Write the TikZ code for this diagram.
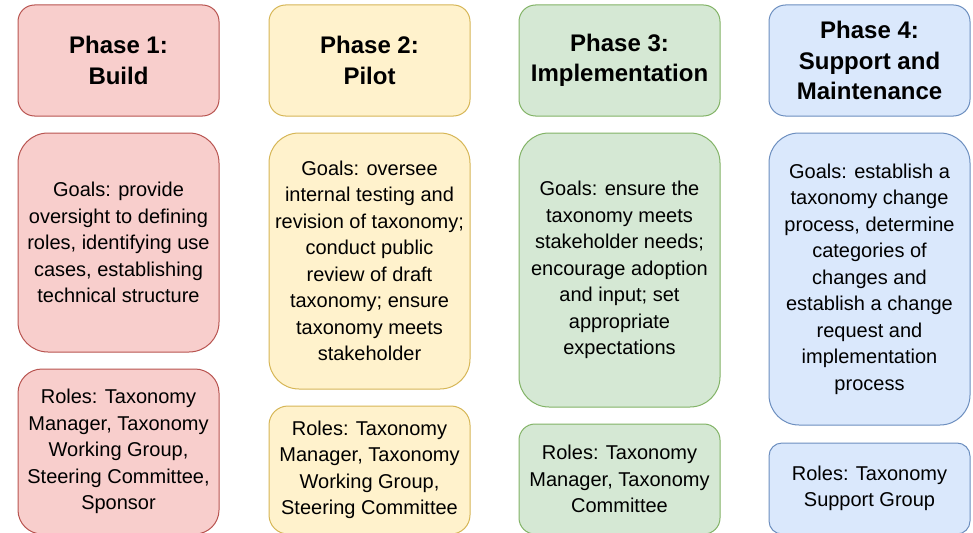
\documentclass[tikz,border=0pt]{standalone}
\usepackage{fontspec}
\setmainfont{Liberation Sans}
\definecolor{redfill}{HTML}{F8CECC}\definecolor{redline}{HTML}{B85450}
\definecolor{yelfill}{HTML}{FFF2CC}\definecolor{yelline}{HTML}{D6B656}
\definecolor{grnfill}{HTML}{D5E8D4}\definecolor{grnline}{HTML}{82B366}
\definecolor{blufill}{HTML}{DAE8FC}\definecolor{bluline}{HTML}{6C8EBF}
\tikzset{
  box/.style={rectangle, draw, line width=1pt, minimum width=201pt, inner sep=0pt, align=center,
    font=\fontsize{20}{26.5}\selectfont},
  titlebox/.style={box, minimum height=111pt, rounded corners=16.5pt,
    font=\fontsize{24}{30.5}\selectfont\bfseries},
  c1/.style={fill=redfill, draw=redline},
  c2/.style={fill=yelfill, draw=yelline},
  c3/.style={fill=grnfill, draw=grnline},
  c4/.style={fill=blufill, draw=bluline},
}
\begin{document}
\begin{tikzpicture}[x=1pt,y=-1pt]
\useasboundingbox (0,0) rectangle (973,532);
\begin{scope}
\clip (0,0) rectangle (973,532);
% Phase boxes
\node[titlebox,c1] (p1) at (118.5,60.5) {Phase 1:\\Build};
\node[titlebox,c2] (p2) at (369.5,60.5) {Phase 2:\\Pilot};
\node[titlebox,c3] (p3) at (619.5,60.5) {Phase 3:\\Implementation};
\node[titlebox,c4] (p4) at (869.5,60.5) {Phase 4:\\Support and\\Maintenance};
% Goals
\node[box,c1,minimum height=219pt,rounded corners=30pt] (g1) at (118.5,242.5)
  {Goals: provide\\oversight to defining\\roles, identifying use\\cases, establishing\\technical structure};
\node[box,c2,minimum height=256pt,rounded corners=30pt] (g2) at (369.5,261)
  {Goals: oversee\\internal testing and\\revision of taxonomy;\\conduct public\\review of draft\\taxonomy; ensure\\taxonomy meets\\stakeholder};
\node[box,c3,minimum height=274pt,rounded corners=30pt] (g3) at (619.5,270)
  {Goals: ensure the\\taxonomy meets\\stakeholder needs;\\encourage adoption\\and input; set\\appropriate\\expectations};
\node[box,c4,minimum height=292pt,rounded corners=30pt] (g4) at (869.5,279)
  {Goals: establish a\\taxonomy change\\process, determine\\categories of\\changes and\\establish a change\\request and\\implementation\\process};
% Roles
\node[box,c1,minimum height=165pt,rounded corners=24pt] (r1) at (118.5,451.5)
  {Roles: Taxonomy\\Manager, Taxonomy\\Working Group,\\Steering Committee,\\Sponsor};
\node[box,c2,minimum height=128pt,rounded corners=19pt] (r2) at (369.5,470)
  {Roles: Taxonomy\\Manager, Taxonomy\\Working Group,\\Steering Committee};
\node[box,c3,minimum height=110pt,rounded corners=16pt] (r3) at (619.5,479)
  {Roles: Taxonomy\\Manager, Taxonomy\\Committee};
\node[box,c4,minimum height=91pt,rounded corners=13pt] (r4) at (869.5,488.5)
  {Roles: Taxonomy\\Support Group};
\end{scope}
\end{tikzpicture}
\end{document}
